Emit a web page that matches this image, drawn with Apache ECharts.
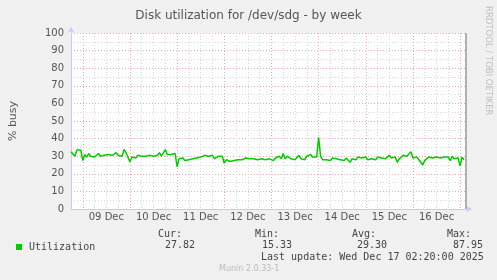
<!DOCTYPE html>
<html><head><meta charset="utf-8">
<script src="https://cdn.jsdelivr.net/npm/echarts@6/dist/echarts.min.js"></script>
<style>html,body{margin:0;padding:0;background:#f0f0f0}#c{width:497px;height:280px}</style>
</head><body><div id="c"></div>
<script>
// hours since 08 Dec 00:00 (hourly averages)
const startHour = 18;
const utilization = [
  32.5, 32, 30, 33.5, 34, 33.5,
  27.5, 31, 29.5, 31.5, 30, 31, 29.5, 30.5, 31.5, 30, 31, 30.5, 29.5, 31, 31.5, 30.5, 31, 32, 30.5, 31.5, 30, 33.9, 32, 31,
  26.8, 29.5, 30, 29, 30.5, 29.5, 30, 30.5, 30, 31, 30.5, 31.5, 30, 31, 30.5, 32, 30, 31, 33.8, 31, 30.5, 31, 30.5, 31.5,
  24, 28.5, 28, 29, 27.5, 28.5, 28, 29, 28.5, 29.5, 29, 30, 29.5, 29, 30.5, 29.5, 30, 29, 30.5, 28.5, 29.5, 30, 29, 30,
  26, 28, 27.5, 27, 28, 27.5, 28.5, 28, 29, 28, 28.5, 29, 28, 28.5, 29.5, 28.5, 29, 28, 29, 28.5, 29.5, 28, 29, 28.5,
  29, 27.5, 29, 28, 30, 28.5, 31.5, 28.5, 30, 29, 28.5, 29.5, 28, 29, 30.5, 28.5, 29.5, 28, 30, 29, 31, 29.5, 30, 29.5,
  40.7, 30, 28, 27.5, 28, 28.5, 27.5, 29, 28, 28.5, 29.5, 28, 28.5, 27.5, 29, 28, 26.5, 28.5, 29, 28, 29.5, 28.5, 29, 28,
  29.5, 28, 29, 28.5, 29, 28, 29.5, 28.5, 29, 30, 28.5, 29.5, 30.5, 29, 28, 29.5, 26.5, 28.5, 29, 30.5, 29.5, 30, 31, 32.6,
  29, 28.5, 29.5, 28, 27.5, 25, 27.5, 28.5, 29.5, 28.5, 29, 28, 29.5, 28.5, 29, 28, 29.5, 28.5, 29.5, 27.5, 30, 28.5, 29.5, 29,
  24.5, 29.5, 28
];
const dayLabels = ['08 Dec','09 Dec','10 Dec','11 Dec','12 Dec','13 Dec','14 Dec','15 Dec','16 Dec','17 Dec'];
const yTicks = [0,10,20,30,40,50,60,70,80,90,100];
const legendStats = {cur:'27.82', min:'15.33', avg:'29.30', max:'87.95'};
const lastUpdate = 'Last update: Wed Dec 17 02:20:00 2025';

const points = utilization.map((v,i)=>[startHour+i, v]);
const mono = 'DejaVu Sans Mono';
const sans = 'DejaVu Sans';
const chart = echarts.init(document.getElementById('c'), null, {renderer:'canvas'});
chart.setOption({
  backgroundColor:'#f0f0f0',
  animation:false,
  title:{text:'Disk utilization for /dev/sdg - by week', left:'center', top:5,
    textStyle:{fontFamily:sans, fontSize:12, fontWeight:'normal', color:'#555'}},
  grid:{left:67, right:31, top:33, bottom:71, show:true, backgroundColor:'#fff', borderWidth:0},
  legend:{left:11, top:237, itemWidth:6, itemHeight:6, itemGap:0, icon:'rect',
    data:['Utilization'], textStyle:{fontFamily:mono, fontSize:10, color:'#444', padding:[0,0,0,2]}},
  xAxis:{type:'value', min:18, max:219, interval:6,
    axisLine:{show:true, lineStyle:{color:'#c8c8ff'}, symbol:['none','arrow'], symbolSize:[5,6], symbolOffset:[0,6]},
    axisTick:{show:false},
    axisLabel:{interval:0, margin:3, showMaxLabel:false, fontFamily:sans, fontSize:10, color:'#555',
      formatter:v=> (v%24===12 ? dayLabels[Math.floor(v/24)] : '')},
    splitLine:{show:true, showMaxLine:false, lineStyle:{color:['#d8d8d8','#eeaaaa','#d8d8d8','#d8d8d8'], type:[1,2], width:1}}
  },
  yAxis:{type:'value', min:0, max:100, interval:10, name:'% busy', nameLocation:'middle', nameGap:52,
    nameTextStyle:{fontFamily:sans, fontSize:11, color:'#555'},
    axisLine:{show:true, lineStyle:{color:'#c8c8ff'}, symbol:['none','arrow'], symbolSize:[5,6], symbolOffset:[0,6]},
    axisTick:{show:false},
    axisLabel:{margin:7, fontFamily:sans, fontSize:10, color:'#555', formatter:v=> yTicks.includes(v)? String(v):''},
    splitLine:{show:true, lineStyle:{color:'#eeaaaa', type:[1,2]}},
    minorTick:{show:false, splitNumber:2},
    minorSplitLine:{show:true, lineStyle:{color:'#d8d8d8', type:[1,2]}}
  },
  series:[{name:'Utilization', type:'line', data:points, showSymbol:false, symbol:'none',
    color:'#00cc00', lineStyle:{width:1.5, color:'#00cc00'}, z:5,
    markLine:{silent:true, symbol:'none', label:{show:false}, animation:false,
      lineStyle:{color:'#999', type:'solid', width:1.5},
      data:[[{coord:[219,0]},{coord:[219,100]}]]}
  }],
  graphic:[
    {type:'text', left:158, top:229, style:{text:'Cur:', font:'10px '+mono, fill:'#444'}},
    {type:'text', left:165, top:240, style:{text:legendStats.cur, font:'10px '+mono, fill:'#444'}},
    {type:'text', left:255, top:229, style:{text:'Min:', font:'10px '+mono, fill:'#444'}},
    {type:'text', left:262, top:240, style:{text:legendStats.min, font:'10px '+mono, fill:'#444'}},
    {type:'text', left:352, top:229, style:{text:'Avg:', font:'10px '+mono, fill:'#444'}},
    {type:'text', left:357, top:240, style:{text:legendStats.avg, font:'10px '+mono, fill:'#444'}},
    {type:'text', left:447, top:229, style:{text:'Max:', font:'10px '+mono, fill:'#444'}},
    {type:'text', left:453, top:240, style:{text:legendStats.max, font:'10px '+mono, fill:'#444'}},
    {type:'text', left:261, top:252, style:{text:lastUpdate, font:'10px '+mono, fill:'#444'}},
    {type:'text', left:219, top:265, style:{text:'Munin 2.0.33-1', font:'8px '+sans, fill:'#bbb'}},
    {type:'text', x:493, y:6, rotation:-Math.PI/2, style:{text:'RRDTOOL / TOBI OETIKER', font:'8.5px '+sans, fill:'#c0c0c0'}}
  ]
});
</script></body></html>
